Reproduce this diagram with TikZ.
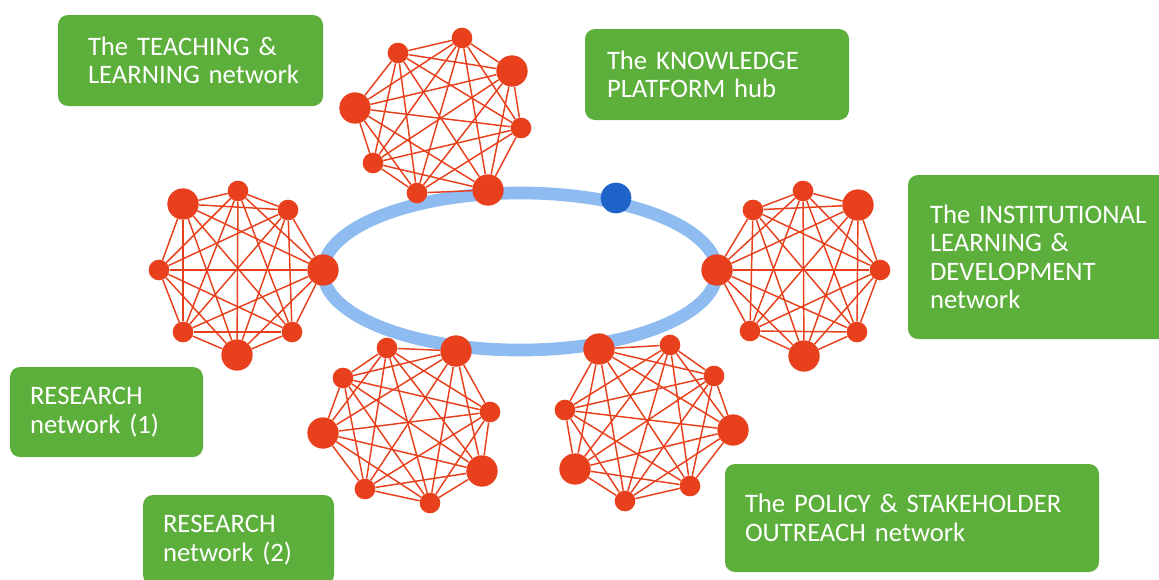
\documentclass[tikz,border=0pt]{standalone}
\usepackage{fontspec}
\setmainfont{Carlito}
\usepackage{tikz}
\usetikzlibrary{arrows,positioning,calc,backgrounds}

\definecolor{netred}{HTML}{E8401C}
\definecolor{ringblue}{HTML}{8EBBF0}
\definecolor{hubblue}{HTML}{1F63C8}
\definecolor{boxgreen}{HTML}{5DAF3C}

\begin{document}
\begin{tikzpicture}[x=0.75pt,y=-0.75pt]
  \tikzstyle{dot}=[circle,fill=netred,inner sep=0pt,minimum size=15.5pt]
  \tikzstyle{bigdot}=[dot,minimum size=23.5pt]
  \tikzstyle{link}=[draw=netred,line width=1.1pt]
  \tikzstyle{gbox}=[fill=boxgreen,rounded corners=7.5pt,text=white,align=left,
                    font=\fontsize{20}{21.3}\selectfont,inner ysep=0pt]

  \clip (0,0) rectangle (1159,579);

  % the ring
  \draw[ringblue,line width=9.5pt] (520,271.5) ellipse [x radius=147.75pt, y radius=58.9pt];

  % teaching & learning
  \node[dot]    (t1) at (462,38)  {};
  \node[dot]    (t2) at (398,53)  {};
  \node[bigdot] (t3) at (512,71)  {};
  \node[bigdot] (t4) at (355,108) {};
  \node[dot]    (t5) at (521,128) {};
  \node[dot]    (t6) at (373,163) {};
  \node[dot]    (t7) at (417,193) {};
  \node[bigdot] (t8) at (488,190) {};

  % research (1)
  \node[bigdot] (r1) at (183,204) {};
  \node[dot]    (r2) at (238,191) {};
  \node[dot]    (r3) at (288,210) {};
  \node[dot]    (r4) at (159,270) {};
  \node[bigdot] (r5) at (323,270) {};
  \node[dot]    (r6) at (183,332) {};
  \node[dot]    (r7) at (292,332) {};
  \node[bigdot] (r8) at (237,355) {};

  % institutional learning & development
  \node[dot]    (i1) at (753,210) {};
  \node[dot]    (i2) at (803,191) {};
  \node[bigdot] (i3) at (858,205) {};
  \node[bigdot] (i4) at (717,270) {};
  \node[dot]    (i5) at (880,270) {};
  \node[dot]    (i6) at (750,331) {};
  \node[dot]    (i7) at (857,332) {};
  \node[bigdot] (i8) at (804,356) {};

  % research (2)
  \node[dot]    (s1) at (387,348) {};
  \node[bigdot] (s2) at (456,351) {};
  \node[dot]    (s3) at (343,378) {};
  \node[dot]    (s4) at (490,412) {};
  \node[bigdot] (s5) at (323,433) {};
  \node[bigdot] (s6) at (482,471) {};
  \node[dot]    (s7) at (365,489) {};
  \node[dot]    (s8) at (430,503) {};

  % policy & stakeholder outreach
  \node[bigdot] (p1) at (599,349) {};
  \node[dot]    (p2) at (670,345) {};
  \node[dot]    (p3) at (714,376) {};
  \node[dot]    (p4) at (565,410) {};
  \node[bigdot] (p5) at (733,430) {};
  \node[bigdot] (p6) at (575,469) {};
  \node[dot]    (p7) at (690,486) {};
  \node[dot]    (p8) at (625,501) {};

  % every node talks to every other node
  \foreach \n in {t,r,i,s,p}
    \foreach \a in {1,...,7} {
      \pgfmathtruncatemacro{\b}{\a+1}
      \foreach \c in {\b,...,8}
        \path[link] (\n\a) -- (\n\c);
    }

  % knowledge platform hub on the ring
  \node[circle,fill=hubblue,inner sep=0pt,minimum size=23pt] (hub) at (616,198) {};

  % labels
  \node[gbox,minimum width=198.75pt,minimum height=68.25pt,text width=153.75pt,inner xsep=22.5pt]
    (teach) at (190.5,60.5) {The TEACHING \&\\\mbox{LEARNING network}};
  \node[gbox,minimum width=198pt,minimum height=68.25pt,text width=165pt,inner xsep=16.5pt]
    (know) at (717,74.5) {The KNOWLEDGE\\PLATFORM hub};
  \node[gbox,minimum width=202.5pt,minimum height=123pt,text width=169.5pt,inner xsep=16.5pt]
    (inst) at (1043,257) {The INSTITUTIONAL\\LEARNING \&\\DEVELOPMENT\\network};
  \node[gbox,minimum width=144.75pt,minimum height=67.5pt,text width=114.75pt,inner xsep=15pt]
    (resa) at (106.5,412) {RESEARCH\\network (1)};
  \node[gbox,minimum width=143.25pt,minimum height=67.5pt,text width=113.25pt,inner xsep=15pt]
    (resb) at (238.5,540) {RESEARCH\\network (2)};
  \node[gbox,minimum width=280.5pt,minimum height=81pt,text width=250.5pt,inner xsep=15pt]
    (pol) at (912,518) {The POLICY \& STAKEHOLDER\\OUTREACH network};
\end{tikzpicture}
\end{document}
